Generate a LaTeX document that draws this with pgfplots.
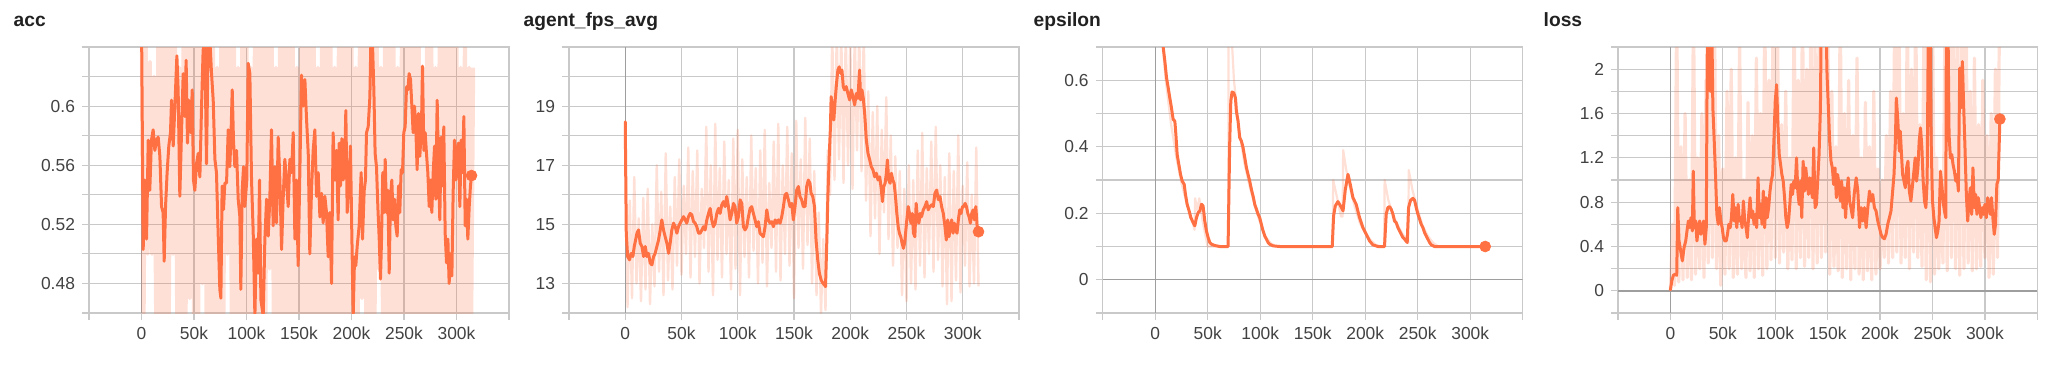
\documentclass[border=0pt]{standalone}
\usepackage{fontspec}
\setmainfont{Liberation Sans}
\usepackage{pgfplots}
\pgfplotsset{compat=1.18}
\definecolor{tbline}{HTML}{FF7043}
\definecolor{tbgrid}{HTML}{C9C9C9}
\definecolor{tbzero}{HTML}{9E9E9E}
\definecolor{tbtick}{HTML}{424242}
\definecolor{tbtitle}{HTML}{212121}
\pgfplotsset{
  tb/.style={
    scale only axis, height=133pt, anchor=south west,
    xmin=-50, xmax=350,
    xtick={-50,0,50,100,150,200,250,300,350},
    xticklabels={,0,50k,100k,150k,200k,250k,300k,},
    grid=major, grid style={tbgrid, line width=0.6pt},
    axis line style={tbgrid, line width=0.6pt},
    tick style={tbgrid, line width=0.6pt},
    major tick length=3.5pt, tick align=outside,
    xtick pos=bottom, ytick pos=left,
    ticklabel style={font=\fontsize{8.7}{10}\selectfont, text=tbtick},
  },
  rawline/.style={tbline, draw opacity=0.22, line width=1.4pt, line join=round},
  smline/.style={tbline, line width=1.5pt, line join=round, line cap=round},
  enddot/.style={only marks, mark=*, mark size=2.7pt, color=tbline, mark options={fill=tbline, draw=tbline}},
  zeroline/.style={tbzero, line width=0.7pt, forget plot},
}
\begin{document}
\begin{tikzpicture}
\useasboundingbox (0,0) rectangle (1034pt,188pt);
% ---------------- acc ----------------
\begin{axis}[tb, at={(44.5pt,31.5pt)}, width=210pt,
  ymin=0.46, ymax=0.64,
  ytick={0.46,0.48,0.5,0.52,0.54,0.56,0.58,0.6,0.62,0.64},
  yticklabels={,0.48,,0.52,,0.56,,0.6,,}]
\addplot[zeroline] coordinates {(0,0.46) (0,0.64)};
\addplot[rawline, line width=1.9pt] coordinates {
(0,0.66)(2,0.44)(4,0.66)(6,0.50)(8,0.63)(10,0.50)(12,0.62)(14,0.44)(16,0.66)(18,0.44)
(20,0.66)(22,0.45)(24,0.66)(26,0.44)(28,0.66)(30,0.50)(32,0.66)(34,0.44)(36,0.626)(38,0.44)
(40,0.66)(42,0.44)(44,0.66)(46,0.47)(48,0.66)(50,0.44)(52,0.66)(54,0.44)(56,0.66)(58,0.48)
(60,0.626)(62,0.44)(64,0.66)(66,0.44)(68,0.66)(70,0.44)(72,0.626)(74,0.44)(76,0.66)(78,0.44)
(80,0.66)(82,0.50)(84,0.66)(86,0.44)(88,0.66)(90,0.44)(92,0.626)(94,0.44)(96,0.66)(98,0.44)
(100,0.66)(102,0.44)(104,0.626)(106,0.44)(108,0.66)(110,0.44)(112,0.66)(114,0.44)(116,0.66)(118,0.44)
(120,0.66)(122,0.49)(124,0.66)(126,0.44)(128,0.626)(130,0.44)(132,0.66)(134,0.44)(136,0.66)(138,0.44)
(140,0.66)(142,0.44)(144,0.66)(146,0.44)(148,0.626)(150,0.44)(152,0.66)(154,0.44)(156,0.66)(158,0.44)
(160,0.66)(162,0.44)(164,0.66)(166,0.44)(168,0.626)(170,0.44)(172,0.66)(174,0.44)(176,0.66)(178,0.44)
(180,0.66)(182,0.44)(184,0.626)(186,0.44)(188,0.66)(190,0.44)(192,0.66)(194,0.44)(196,0.66)(198,0.44)
(200,0.66)(202,0.44)(204,0.626)(206,0.44)(208,0.66)(210,0.47)(212,0.66)(214,0.44)(216,0.66)(218,0.44)
(220,0.66)(222,0.44)(224,0.66)(226,0.49)(228,0.626)(230,0.44)(232,0.66)(234,0.44)(236,0.66)(238,0.44)
(240,0.66)(242,0.44)(244,0.626)(246,0.44)(248,0.66)(250,0.44)(252,0.66)(254,0.44)(256,0.66)(258,0.44)
(260,0.66)(262,0.44)(264,0.66)(266,0.44)(268,0.626)(270,0.44)(272,0.66)(274,0.44)(276,0.66)(278,0.44)
(280,0.626)(282,0.44)(284,0.66)(286,0.44)(288,0.66)(290,0.44)(292,0.66)(294,0.44)(296,0.66)(298,0.44)
(300,0.66)(302,0.44)(304,0.626)(306,0.44)(308,0.66)(310,0.44)(312,0.626)(314,0.44)(316,0.626)};
\addplot[smline] coordinates {
(0,0.66)(1.6,0.503)(3.2,0.550)(4.8,0.510)(6.4,0.577)(7.9,0.543)(9.5,0.577)(11.1,0.584)(12.7,0.570)(14.3,0.577)
(15.9,0.579)(17.5,0.566)(19.1,0.532)(20.6,0.528)(21.6,0.495)(22.9,0.532)(24.4,0.555)(26.0,0.573)(27.6,0.582)(28.6,0.604)
(30.2,0.573)(31.8,0.600)(33.7,0.634)(34.9,0.611)(36.5,0.539)(38.1,0.582)(39.7,0.622)(41.3,0.593)(42.5,0.631)(43.8,0.575)
(45.1,0.604)(47.0,0.582)(48.3,0.611)(49.5,0.550)(50.8,0.543)(52.4,0.561)(54.0,0.568)(55.6,0.552)(57.2,0.600)(58.7,0.638)
(60.3,0.645)(61.9,0.561)(63.5,0.645)(65.1,0.645)(66.7,0.622)(68.3,0.604)(69.9,0.564)(71.4,0.555)(73.0,0.514)(74.6,0.476)
(75.6,0.470)(76.8,0.546)(78.1,0.530)(79.4,0.548)(81.0,0.548)(82.6,0.584)(84.1,0.559)(85.1,0.577)(86.4,0.611)(87.6,0.577)
(88.9,0.559)(90.5,0.570)(92.1,0.537)(93.7,0.525)(94.6,0.476)(95.9,0.543)(97.2,0.559)(98.4,0.532)(100.3,0.550)(101.6,0.629)
(103.2,0.622)(104.8,0.550)(106.4,0.514)(108.0,0.458)(109.5,0.510)(111.1,0.487)(112.4,0.550)(113.7,0.469)(115.9,0.458)(117.5,0.510)
(119.1,0.537)(120.7,0.512)(122.2,0.537)(123.8,0.584)(125.4,0.519)(127.0,0.559)(128.6,0.521)(130.2,0.579)(131.8,0.550)(133.4,0.503)
(134.9,0.537)(136.5,0.564)(138.1,0.550)(139.7,0.532)(141.3,0.564)(142.9,0.555)(144.5,0.582)(146.1,0.510)(147.6,0.550)(149.2,0.492)
(150.8,0.555)(152.4,0.621)(154.0,0.600)(155.6,0.618)(157.2,0.591)(158.8,0.568)(160.3,0.500)(161.9,0.543)(163.5,0.570)(165.1,0.584)
(166.7,0.539)(168.3,0.555)(169.9,0.525)(171.5,0.541)(173.0,0.521)(174.6,0.539)(176.2,0.528)(177.8,0.498)(179.4,0.528)(181.0,0.480)
(182.5,0.582)(184.1,0.550)(185.7,0.570)(187.3,0.523)(188.3,0.575)(189.5,0.546)(190.8,0.578)(192.1,0.550)(193.7,0.566)(194.6,0.597)
(195.9,0.528)(197.8,0.550)(199.0,0.573)(200.3,0.514)(201.6,0.458)(202.9,0.498)(204.1,0.492)(205.4,0.505)(207.3,0.519)(209.2,0.555)
(210.5,0.510)(212.1,0.543)(213.3,0.550)(214.3,0.582)(215.9,0.586)(217.5,0.606)(218.4,0.642)(220.0,0.642)(221.3,0.611)(222.5,0.568)
(223.8,0.559)(225.1,0.532)(226.4,0.510)(227.6,0.483)(228.6,0.510)(229.8,0.555)(231.1,0.528)(232.1,0.564)(233.3,0.528)(234.6,0.543)
(235.9,0.487)(237.1,0.537)(238.4,0.550)(239.7,0.523)(241.0,0.537)(242.2,0.519)(243.5,0.512)(244.8,0.546)(246.0,0.528)(247.3,0.557)
(248.6,0.555)(249.8,0.582)(251.1,0.586)(252.4,0.613)(253.7,0.611)(254.9,0.622)(256.2,0.618)(257.5,0.600)(258.7,0.582)(260.0,0.600)
(261.3,0.584)(262.5,0.557)(263.8,0.595)(265.1,0.566)(266.7,0.588)(267.6,0.627)(268.9,0.570)(270.2,0.582)(271.4,0.568)(272.7,0.555)
(274.0,0.532)(275.2,0.550)(276.5,0.528)(277.8,0.555)(279.1,0.573)(280.3,0.537)(281.6,0.604)(282.9,0.555)(284.1,0.523)(285.4,0.579)
(286.7,0.546)(287.9,0.586)(289.2,0.514)(290.5,0.494)(291.8,0.510)(293.0,0.480)(294.3,0.500)(295.6,0.485)(296.8,0.541)(298.1,0.577)
(299.4,0.550)(300.6,0.570)(301.9,0.575)(303.2,0.532)(304.4,0.577)(305.7,0.555)(307.0,0.593)(308.3,0.519)(309.5,0.537)(310.8,0.510)
(312.1,0.532)(313.3,0.546)(314.3,0.553)};
\addplot[enddot] coordinates {(314.3,0.553)};
\end{axis}
% ---------------- agent_fps_avg ----------------
\begin{axis}[tb, at={(284.5pt,31.5pt)}, width=225pt,
  ymin=12, ymax=21,
  ytick={12,13,14,15,16,17,18,19,20,21},
  yticklabels={,13,,15,,17,,19,,}]
\addplot[zeroline] coordinates {(0,12) (0,21)};
\addplot[rawline, line width=1.2pt] coordinates {
(0,18.5)(2,12.2)(4,15.8)(6,12.5)(8,16.6)(10,13.0)(12,15.2)(14,12.4)(16,15.9)(18,12.8)
(20,16.2)(22,12.3)(24,15.0)(26,12.9)(28,17.0)(30,13.4)(32,16.1)(34,12.6)(36,17.4)(38,13.1)
(40,15.6)(42,12.8)(44,16.6)(46,13.6)(48,17.2)(50,13.3)(52,16.3)(54,14.0)(56,17.6)(58,13.2)
(60,16.8)(62,13.9)(64,17.5)(66,13.0)(68,16.2)(70,14.2)(72,18.3)(74,13.4)(76,17.0)(78,12.6)
(80,18.4)(82,13.8)(84,16.9)(86,13.2)(88,17.8)(90,14.0)(92,16.5)(94,12.8)(96,17.9)(98,13.5)
(100,18.2)(102,12.6)(104,17.2)(106,13.9)(108,16.6)(110,13.2)(112,18.0)(114,14.1)(116,16.9)(118,13.0)
(120,17.5)(122,13.7)(124,18.2)(126,12.9)(128,16.4)(130,14.2)(132,17.8)(134,13.4)(136,18.4)(138,13.1)
(140,17.0)(142,14.0)(144,18.3)(146,13.6)(148,17.4)(150,12.5)(152,18.5)(154,14.2)(156,17.2)(158,13.5)
(160,18.6)(162,14.3)(164,17.9)(166,13.0)(168,16.8)(170,12.6)(172,15.4)(174,12.0)(176,14.5)(178,12.1)
(180,17.5)(182,16.0)(184,21.5)(186,16.5)(188,21.5)(190,17.2)(192,21.5)(194,16.4)(196,21.5)(198,17.0)
(200,21.3)(202,16.2)(204,21.5)(206,17.5)(208,21.5)(210,16.8)(212,21.5)(214,15.8)(216,19.5)(218,14.6)
(220,18.8)(222,15.2)(224,19.0)(226,14.0)(228,18.2)(230,15.4)(232,19.3)(234,14.5)(236,18.0)(238,13.6)
(240,17.3)(242,14.2)(244,16.8)(246,12.6)(248,16.2)(250,12.4)(252,17.0)(254,13.0)(256,16.5)(258,12.8)
(260,17.5)(262,13.6)(264,18.1)(266,13.2)(268,16.9)(270,14.0)(272,17.8)(274,13.4)(276,18.3)(278,13.8)
(280,17.0)(282,12.9)(284,16.6)(286,12.3)(288,17.4)(290,12.4)(292,16.8)(294,13.1)(296,18.0)(298,12.7)
(300,16.3)(302,13.6)(304,17.1)(306,12.9)(308,16.0)(310,13.0)(312,17.6)(314,12.9)};
\addplot[smline] coordinates {
(0,18.47)(0.9,14.70)(2.1,13.91)(3.8,13.80)(5.3,14.02)(6.8,13.91)(8.0,14.25)(9.2,14.47)(10.4,14.70)(11.8,14.81)
(13.3,14.36)(14.8,14.25)(16.3,13.91)(17.8,14.25)(19.2,13.91)(20.7,14.02)(22.2,13.69)(23.7,13.63)(25.2,13.91)(26.6,14.02)
(28.1,14.25)(29.6,14.47)(31.1,14.81)(32.5,15.15)(34.0,14.81)(35.5,14.58)(37.0,14.36)(38.5,14.02)(39.9,14.36)(41.4,14.81)
(42.9,15.04)(44.4,14.92)(45.9,14.70)(47.3,14.92)(48.8,15.04)(50.3,15.15)(51.8,15.26)(53.3,15.15)(54.7,15.04)(56.2,15.26)
(57.7,15.37)(59.2,15.32)(60.7,15.09)(62.1,15.04)(63.6,14.92)(65.1,14.70)(66.6,14.70)(68.1,14.81)(69.5,14.92)(71.0,14.81)
(72.5,15.15)(74.0,15.37)(75.5,15.54)(76.9,15.15)(78.4,14.92)(79.9,15.04)(81.4,15.37)(82.9,15.54)(84.3,15.37)(85.8,15.66)
(87.3,15.77)(88.8,15.60)(90.2,15.94)(91.7,15.60)(93.2,15.15)(94.7,15.37)(96.2,15.71)(97.6,15.60)(99.1,15.04)(100.6,15.26)
(102.1,15.83)(103.6,15.71)(105.0,14.92)(106.5,14.81)(108.0,14.92)(109.5,15.26)(111.0,15.54)(112.4,15.60)(113.9,15.37)(115.4,15.15)
(116.9,14.92)(118.4,15.09)(119.8,14.70)(121.3,14.64)(122.8,14.58)(124.3,14.92)(125.8,15.49)(127.2,15.15)(128.7,15.04)(130.2,15.09)
(131.7,14.92)(133.2,15.15)(134.6,15.04)(136.1,15.15)(137.6,15.04)(139.1,15.26)(140.6,15.60)(142.0,15.99)(143.5,16.05)(145.0,15.83)
(146.5,15.60)(148.0,15.71)(149.4,15.15)(150.9,15.60)(152.4,16.16)(153.9,16.28)(155.3,15.94)(156.8,15.83)(158.3,15.60)(159.8,15.60)
(161.3,16.28)(162.7,16.50)(164.2,16.39)(165.2,16.05)(166.7,15.94)(168.2,15.60)(169.6,14.47)(171.1,13.80)(172.6,13.34)(174.1,13.12)
(175.6,13.01)(177.1,12.95)(178.0,12.89)(179.2,14.47)(180.1,15.94)(181.3,17.29)(182.4,18.31)(183.0,19.32)(184.2,18.98)(185.4,18.53)
(186.6,19.21)(187.8,19.77)(189.0,20.22)(190.2,20.33)(191.4,20.11)(192.6,20.22)(193.8,19.66)(194.9,19.55)(196.4,19.66)(197.9,19.43)
(199.4,19.21)(200.9,19.55)(202.4,19.32)(203.9,19.04)(205.4,19.43)(206.8,19.26)(208.3,20.22)(209.2,19.21)(210.4,19.55)(211.6,19.26)
(212.8,18.76)(214.3,17.85)(215.8,17.40)(217.3,17.18)(218.7,16.95)(220.2,16.84)(221.7,16.61)(223.2,16.73)(224.7,16.50)(226.2,16.61)
(227.7,16.16)(228.6,15.77)(229.8,16.28)(231.0,16.39)(232.1,16.73)(233.0,17.18)(234.2,16.50)(235.4,16.39)(236.6,16.73)(237.8,16.50)
(239.0,16.39)(240.2,15.94)(241.4,15.37)(242.6,14.92)(243.7,14.70)(244.9,14.58)(246.1,14.36)(247.3,14.19)(248.5,14.42)(250.0,15.04)
(251.5,15.60)(252.7,15.37)(253.9,15.04)(255.1,15.37)(256.2,14.70)(257.4,14.58)(258.6,15.71)(259.8,15.15)(261.0,15.04)(262.2,15.37)
(263.4,15.26)(264.9,15.49)(266.4,15.60)(267.9,15.77)(269.3,15.49)(270.8,15.60)(272.3,15.66)(273.8,15.60)(275.3,16.05)(276.8,16.16)
(278.3,15.83)(279.8,15.94)(281.2,15.60)(282.7,15.37)(284.2,14.92)(285.4,14.47)(286.6,15.15)(287.8,14.58)(289.0,14.92)(290.2,15.15)
(291.4,14.70)(292.6,15.04)(293.7,14.81)(294.9,14.70)(296.1,15.15)(297.3,15.49)(298.5,15.37)(299.7,15.60)(300.9,15.60)(302.1,15.71)
(303.3,15.60)(304.5,15.37)(305.6,15.26)(306.8,15.04)(308.0,15.37)(309.2,15.49)(310.4,15.15)(311.6,15.60)(312.8,14.92)(314.0,14.75)};
\addplot[enddot] coordinates {(314.0,14.75)};
\end{axis}
% ---------------- epsilon ----------------
\begin{axis}[tb, at={(551.35pt,31.5pt)}, width=210pt,
  ymin=-0.1, ymax=0.7,
  ytick={-0.1,0,0.1,0.2,0.3,0.4,0.5,0.6,0.7},
  yticklabels={,0,,0.2,,0.4,,0.6,}]
\addplot[zeroline] coordinates {(0,-0.1) (0,0.7)};
\addplot[zeroline] coordinates {(-50,0) (350,0)};
\addplot[rawline, line width=1.1pt] coordinates {
(0,1.0)(5,0.78)(10,0.6)(15,0.47)(20,0.37)(25,0.29)(30,0.23)(35,0.18)(37.5,0.15)(38,0.245)
(40,0.21)(42,0.245)(45,0.18)(48,0.13)(50,0.1)(69.5,0.1)(70,0.95)(72,0.78)(75,0.6)(80,0.45)
(85,0.35)(90,0.28)(95,0.22)(100,0.17)(105,0.13)(110,0.11)(115,0.1)(169,0.1)(169.5,0.3)(173,0.25)
(177,0.19)(178.5,0.19)(179,0.39)(182,0.33)(186,0.27)(190,0.22)(195,0.17)(200,0.14)(205,0.12)(210,0.105)
(215,0.1)(218,0.1)(218.5,0.3)(222,0.24)(226,0.2)(230,0.17)(235,0.14)(240,0.12)(241,0.11)(241.5,0.33)
(245,0.27)(250,0.21)(255,0.16)(260,0.13)(265,0.11)(270,0.1)(315,0.1)};
\addplot[smline] coordinates {
(0,1.0)(3,0.86)(5.5,0.77)(7.6,0.70)(9.2,0.657)(10.8,0.607)(12.4,0.577)(13.9,0.547)(15.5,0.517)(17.1,0.482)
(18.7,0.477)(19.7,0.437)(20.9,0.377)(22.5,0.347)(24.1,0.317)(25.7,0.297)(27.6,0.287)(28.8,0.257)(30.4,0.227)(32.3,0.207)
(33.9,0.187)(36.1,0.172)(37.7,0.162)(39.3,0.187)(40.9,0.202)(42.5,0.207)(44.1,0.227)(45.6,0.222)(47.2,0.177)(48.8,0.147)
(50.4,0.127)(52.0,0.112)(53.6,0.107)(56.7,0.103)(61.5,0.1)(69.4,0.1)(71.0,0.417)(72.0,0.537)(73.2,0.565)(74.8,0.562)
(76.4,0.547)(77.3,0.507)(78.9,0.477)(80.5,0.427)(82.1,0.417)(83.7,0.397)(85.3,0.367)(86.9,0.337)(88.4,0.317)(90.0,0.297)
(91.6,0.272)(93.2,0.252)(94.8,0.227)(96.4,0.212)(98.0,0.197)(99.5,0.187)(101.1,0.167)(102.7,0.147)(104.3,0.132)(105.9,0.122)
(107.5,0.112)(109.0,0.107)(112.2,0.102)(118.6,0.1)(168.6,0.1)(169.9,0.192)(171.5,0.222)(174.0,0.235)(176.0,0.225)(178.9,0.207)
(181.0,0.27)(183.6,0.317)(185.1,0.297)(188.3,0.247)(191.4,0.227)(193.0,0.207)(194.6,0.187)(197.8,0.157)(201.0,0.137)(204.1,0.117)
(207.3,0.105)(212.1,0.1)(218.4,0.1)(220.0,0.197)(221.6,0.217)(223.2,0.22)(224.8,0.212)(226.4,0.197)(227.9,0.177)(229.5,0.172)
(231.1,0.157)(232.7,0.147)(234.3,0.137)(235.9,0.127)(237.5,0.122)(240.0,0.112)(241.3,0.217)(243.2,0.239)(245.4,0.245)(247.0,0.239)
(248.6,0.217)(250.2,0.197)(251.8,0.182)(253.3,0.167)(254.9,0.157)(256.5,0.142)(258.1,0.132)(259.7,0.122)(261.3,0.112)(262.9,0.105)
(266.0,0.1)(314.3,0.1)};
\addplot[enddot] coordinates {(314.3,0.1)};
\end{axis}
% ---------------- loss ----------------
\begin{axis}[tb, at={(809pt,31.5pt)}, width=209.65pt,
  ymin=-0.2, ymax=2.2,
  ytick={-0.2,0,0.2,0.4,0.6,0.8,1,1.2,1.4,1.6,1.8,2,2.2},
  yticklabels={,0,,0.4,,0.8,,1.2,,1.6,,2,}]
\addplot[zeroline] coordinates {(0,-0.2) (0,2.2)};
\addplot[zeroline] coordinates {(-50,0) (350,0)};
\addplot[rawline, line width=1.6pt] coordinates {
(0,0.0)(2,0.6)(4,0.05)(6,2.6)(8,0.08)(10,1.3)(12,0.1)(14,1.6)(16,0.12)(18,1.0)
(20,0.1)(22,2.6)(24,0.15)(26,1.2)(28,0.2)(30,1.6)(32,0.12)(34,1.9)(36,0.25)(38,2.6)
(40,0.3)(42,2.6)(44,0.2)(46,1.4)(48,0.05)(50,1.1)(52,0.15)(54,1.8)(56,0.2)(58,2.0)
(60,0.12)(62,1.2)(64,0.15)(66,2.3)(68,0.2)(70,1.0)(72,0.12)(74,1.7)(76,0.18)(78,1.4)
(80,0.12)(82,2.1)(84,0.2)(86,1.6)(88,0.14)(90,2.6)(92,0.2)(94,1.9)(96,0.28)(98,2.6)
(100,0.3)(102,2.6)(104,0.25)(106,1.5)(108,0.35)(110,1.8)(112,0.2)(114,1.2)(116,0.28)(118,2.6)
(120,0.2)(122,1.9)(124,0.3)(126,2.6)(128,0.22)(130,2.0)(132,0.3)(134,2.6)(136,0.2)(138,2.2)
(140,0.25)(142,2.6)(144,0.3)(146,2.6)(148,0.35)(150,2.6)(152,0.15)(154,1.8)(156,0.22)(158,1.3)
(160,0.18)(162,2.6)(164,0.12)(166,1.6)(168,0.2)(170,1.9)(172,0.1)(174,1.4)(176,0.2)(178,2.1)
(180,0.15)(182,1.2)(184,0.1)(186,1.7)(188,0.18)(190,1.3)(192,0.1)(194,1.8)(196,0.15)(198,1.1)
(200,0.2)(202,1.0)(204,0.3)(206,1.4)(208,0.25)(210,1.8)(212,0.3)(214,2.6)(216,0.35)(218,2.6)
(220,0.25)(222,1.6)(224,0.3)(226,2.6)(228,0.2)(230,2.0)(232,0.35)(234,2.6)(236,0.3)(238,1.5)
(240,0.22)(242,2.6)(244,0.1)(246,2.6)(248,0.08)(250,2.6)(252,0.15)(254,1.2)(256,0.2)(258,1.0)
(260,0.25)(262,2.6)(264,0.18)(266,2.6)(268,0.3)(270,2.6)(272,0.2)(274,2.3)(276,0.14)(278,2.6)
(280,0.2)(282,2.6)(284,0.25)(286,1.8)(288,0.18)(290,2.1)(292,0.2)(294,1.5)(296,0.22)(298,1.9)
(300,0.3)(302,1.4)(304,0.12)(306,1.6)(308,0.15)(310,2.0)(312,0.3)(314,2.6)};
\addplot[smline] coordinates {
(0,0.01)(1.3,0.09)(2.8,0.14)(4.4,0.15)(6.0,0.14)(7.0,0.75)(8.2,0.45)(9.8,0.36)(11.4,0.27)(13.0,0.39)
(14.6,0.45)(15.8,0.54)(17.1,0.63)(18.4,0.57)(19.6,0.66)(20.9,0.54)(21.8,1.08)(22.8,0.57)(24.1,0.63)(25.3,0.45)
(26.6,0.57)(27.9,0.63)(29.1,0.51)(30.4,0.57)(31.7,0.63)(32.9,0.42)(34.2,0.57)(35.4,2.6)(36.7,2.6)(38.0,1.80)
(39.2,2.6)(40.5,1.65)(41.8,1.35)(43.0,1.05)(44.3,0.69)(45.6,0.60)(46.8,0.75)(48.1,0.63)(49.4,0.57)(50.6,0.48)
(51.9,0.45)(53.2,0.45)(54.4,0.51)(55.7,0.60)(57.0,0.57)(58.2,0.66)(59.5,0.87)(60.8,0.63)(62.0,0.75)(63.3,0.57)
(64.6,0.78)(65.8,0.63)(67.1,0.66)(68.4,0.57)(69.6,0.81)(70.9,0.63)(72.2,0.57)(73.4,0.48)(74.7,0.69)(76.0,0.84)
(77.2,0.66)(78.5,0.72)(79.8,0.60)(81.0,0.69)(82.3,0.57)(83.6,1.02)(84.8,0.66)(86.1,0.78)(87.4,0.60)(88.6,0.90)
(89.9,0.57)(91.2,0.84)(92.4,0.66)(93.7,0.75)(95.0,0.90)(96.2,0.99)(97.5,1.05)(98.7,1.35)(100.0,1.71)(101.3,1.86)
(102.5,1.50)(103.8,1.23)(105.1,1.14)(106.3,1.05)(107.6,0.99)(108.9,0.84)(110.1,0.66)(111.4,0.57)(112.7,0.63)(113.9,0.78)
(115.2,0.96)(116.5,0.87)(117.7,0.99)(119.0,0.93)(120.3,1.20)(121.5,0.90)(122.8,0.78)(124.1,0.99)(125.3,0.66)(126.6,1.17)
(127.9,0.90)(129.1,1.11)(130.4,0.99)(131.7,0.87)(132.9,1.02)(134.2,0.93)(135.5,0.84)(136.7,1.29)(138.0,0.75)(139.3,0.78)
(140.5,0.99)(141.8,1.23)(143.1,1.65)(144.0,2.6)(145.6,2.6)(146.9,2.6)(148.1,2.6)(149.4,1.95)(150.7,1.65)(151.9,1.35)
(153.2,1.17)(154.5,1.11)(155.7,0.96)(157.0,1.11)(158.3,0.84)(159.5,1.05)(160.8,0.96)(162.1,0.81)(163.3,0.99)(164.6,0.75)
(165.8,0.93)(167.1,0.66)(168.4,0.90)(169.6,1.02)(170.9,0.81)(172.2,0.75)(173.8,0.66)(175.3,0.87)(177.2,1.02)(178.8,0.90)
(180.4,0.57)(182.0,0.75)(183.5,0.63)(185.1,0.75)(186.7,0.57)(188.3,0.75)(189.9,0.90)(191.5,0.81)(193.0,0.87)(194.6,0.75)
(196.2,0.72)(197.8,0.63)(199.4,0.57)(200.9,0.51)(202.5,0.48)(204.1,0.47)(205.7,0.51)(207.3,0.60)(208.9,0.66)(210.4,0.72)
(212.0,0.90)(213.3,1.05)(214.6,1.35)(215.5,1.74)(216.8,1.56)(218.4,1.26)(219.3,1.44)(220.6,1.20)(221.5,1.05)(222.8,0.99)
(224.1,0.93)(225.3,1.11)(226.6,1.17)(227.9,0.90)(229.4,0.81)(231.0,0.96)(232.3,1.08)(233.5,1.20)(234.8,0.99)(236.1,1.11)
(237.3,1.35)(238.6,1.47)(239.9,1.29)(241.1,0.99)(242.4,0.81)(243.7,0.75)(244.9,0.99)(246.2,2.6)(247.5,2.6)(248.7,1.35)
(250.0,0.81)(251.3,0.66)(252.5,0.57)(253.8,0.48)(255.1,0.54)(256.3,0.63)(257.6,1.08)(258.9,0.96)(260.1,0.81)(261.4,0.72)
(262.7,0.66)(263.3,2.6)(264.6,2.6)(265.8,1.41)(267.1,1.20)(268.4,1.23)(269.6,1.14)(270.9,1.08)(272.2,0.99)(273.4,1.05)
(274.7,0.90)(276.0,2.01)(277.2,1.65)(278.5,2.07)(279.8,1.65)(281.0,1.29)(282.3,0.87)(283.6,0.63)(284.8,0.81)(286.1,0.93)
(287.4,0.69)(288.6,1.11)(289.9,0.75)(291.2,0.87)(292.4,0.69)(293.7,0.84)(295.0,0.75)(296.2,0.66)(297.5,0.75)(298.8,0.69)
(300.0,0.78)(301.3,0.66)(302.6,0.84)(303.8,0.78)(305.1,0.69)(306.3,0.84)(307.6,0.66)(308.9,0.51)(310.1,0.60)(311.4,0.96)
(312.7,1.00)(314.3,1.55)};
\addplot[enddot] coordinates {(314.3,1.55)};
\end{axis}
% ---------------- titles ----------------
\begin{scope}[every node/.style={anchor=base west, inner sep=0pt, text=tbtitle, font=\fontsize{9.6}{11}\selectfont\bfseries}]
\node at (6.65pt,175pt) {acc};
\node at (261.65pt,175pt) {agent\_fps\_avg};
\node at (516.65pt,175pt) {epsilon};
\node at (771.65pt,175pt) {loss};
\end{scope}
\end{tikzpicture}
\end{document}
